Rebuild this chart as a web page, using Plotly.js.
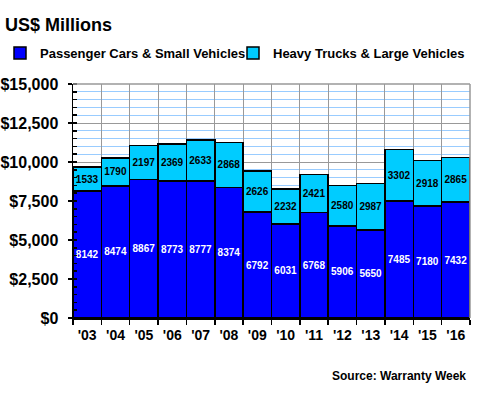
<!DOCTYPE html>
<html>
<head>
<meta charset="utf-8">
<script src="https://cdn.plot.ly/plotly-3.0.1.min.js"></script>
<style>html,body{margin:0;padding:0;background:#fff;}#chart{width:480px;height:400px;}</style>
</head>
<body>
<div id="chart"></div>
<script>
const years = ["'03","'04","'05","'06","'07","'08","'09","'10","'11","'12","'13","'14","'15","'16"];
const passenger = [8142, 8474, 8867, 8773, 8777, 8374, 6792, 6031, 6768, 5906, 5650, 7485, 7180, 7432];
const heavy = [1533, 1790, 2197, 2369, 2633, 2868, 2626, 2232, 2421, 2580, 2987, 3302, 2918, 2865];
const seriesNames = ["Passenger Cars & Small Vehicles", "Heavy Trucks & Large Vehicles"];

const F = "Liberation Sans, Arial, sans-serif";

const traces = [
  {
    type: 'bar', name: seriesNames[0], x: years, y: passenger, legend: 'legend',
    marker: {color: '#0000FF', line: {color: '#000000', width: 1.5}},
    text: passenger.map(String), textposition: 'inside', insidetextanchor: 'middle', textangle: 0,
    textfont: {family: F, size: 10, color: '#FFFFFF', weight: 'bold'},
    constraintext: 'none', hoverinfo: 'skip'
  },
  {
    type: 'bar', name: seriesNames[1], x: years, y: heavy, legend: 'legend2',
    marker: {color: '#00CCFF', line: {color: '#000000', width: 1.5}},
    text: heavy.map(String), textposition: 'inside', insidetextanchor: 'middle', textangle: 0,
    textfont: {family: F, size: 10, color: '#000000', weight: 'bold'},
    constraintext: 'none', hoverinfo: 'skip'
  }
];

const plotL = 73, plotW = 397, plotT = 84, plotH = 234;
const legendCommon = {
  orientation: 'h', xref: 'container', yref: 'container',
  xanchor: 'left', yanchor: 'top',
  font: {family: F, size: 13, weight: 'bold', color: '#000000'},
  bgcolor: 'rgba(0,0,0,0)'
};

const layout = {
  width: 480, height: 400,
  margin: {l: plotL, r: 480 - plotL - plotW, t: plotT, b: 400 - plotT - plotH},
  paper_bgcolor: '#FFFFFF', plot_bgcolor: '#FFFFFF',
  barmode: 'stack', bargap: 0,
  font: {family: F, color: '#000000'},
  title: {
    text: 'US$ Millions', xref: 'container', yref: 'container',
    x: 5/480, xanchor: 'left', y: 1 - 25/400, yanchor: 'middle',
    font: {family: F, size: 18, weight: 'bold', color: '#000000'}
  },
  showlegend: true,
  legend: Object.assign({}, legendCommon, {x: 0, y: 1 - 38/400}),
  legend2: Object.assign({}, legendCommon, {x: 233/480, y: 1 - 38/400}),
  xaxis: {
    type: 'category', tickson: 'boundaries', tickangle: 0,
    ticks: 'outside', ticklen: 5, tickcolor: '#000000', tickwidth: 1.5,
    showgrid: true, gridcolor: '#999999', gridwidth: 1,
    showline: true, linecolor: '#000000', linewidth: 1.5,
    tickfont: {family: F, size: 14, weight: 'bold', color: '#000000'},
    ticklabelstandoff: 4,
    fixedrange: true
  },
  yaxis: {
    range: [0, 15000], dtick: 2500, tick0: 0,
    tickprefix: '$', tickformat: ',d',
    ticks: 'outside', ticklen: 4, tickcolor: '#000000', tickwidth: 1.5,
    showgrid: true, gridcolor: '#999999', gridwidth: 1,
    showline: true, linecolor: '#000000', linewidth: 1.5,
    zeroline: false,
    minor: {dtick: 500, showgrid: true, gridcolor: '#99CCFF', gridwidth: 1,
            ticks: 'inside', ticklen: 4, tickcolor: '#000000', tickwidth: 1.5},
    tickfont: {family: F, size: 16, weight: 'bold', color: '#000000'},
    ticklabelstandoff: 6,
    fixedrange: true
  },
  shapes: [
    {type: 'line', xref: 'paper', yref: 'paper', x0: 0, x1: 1, y0: 1, y1: 1, line: {color: '#999999', width: 1.5}},
    {type: 'line', xref: 'paper', yref: 'paper', x0: 1, x1: 1, y0: 0, y1: 1, line: {color: '#999999', width: 1.5}}
  ],
  annotations: [
    {text: 'Source: Warranty Week', xref: 'paper', yref: 'paper',
     x: (468 - plotL) / plotW, xanchor: 'right', y: (plotT + plotH - 376) / plotH, yanchor: 'middle', showarrow: false,
     font: {family: F, size: 12, weight: 'bold', color: '#000000'}}
  ]
};

Plotly.newPlot('chart', traces, layout, {displayModeBar: false, staticPlot: true});
</script>
</body>
</html>
